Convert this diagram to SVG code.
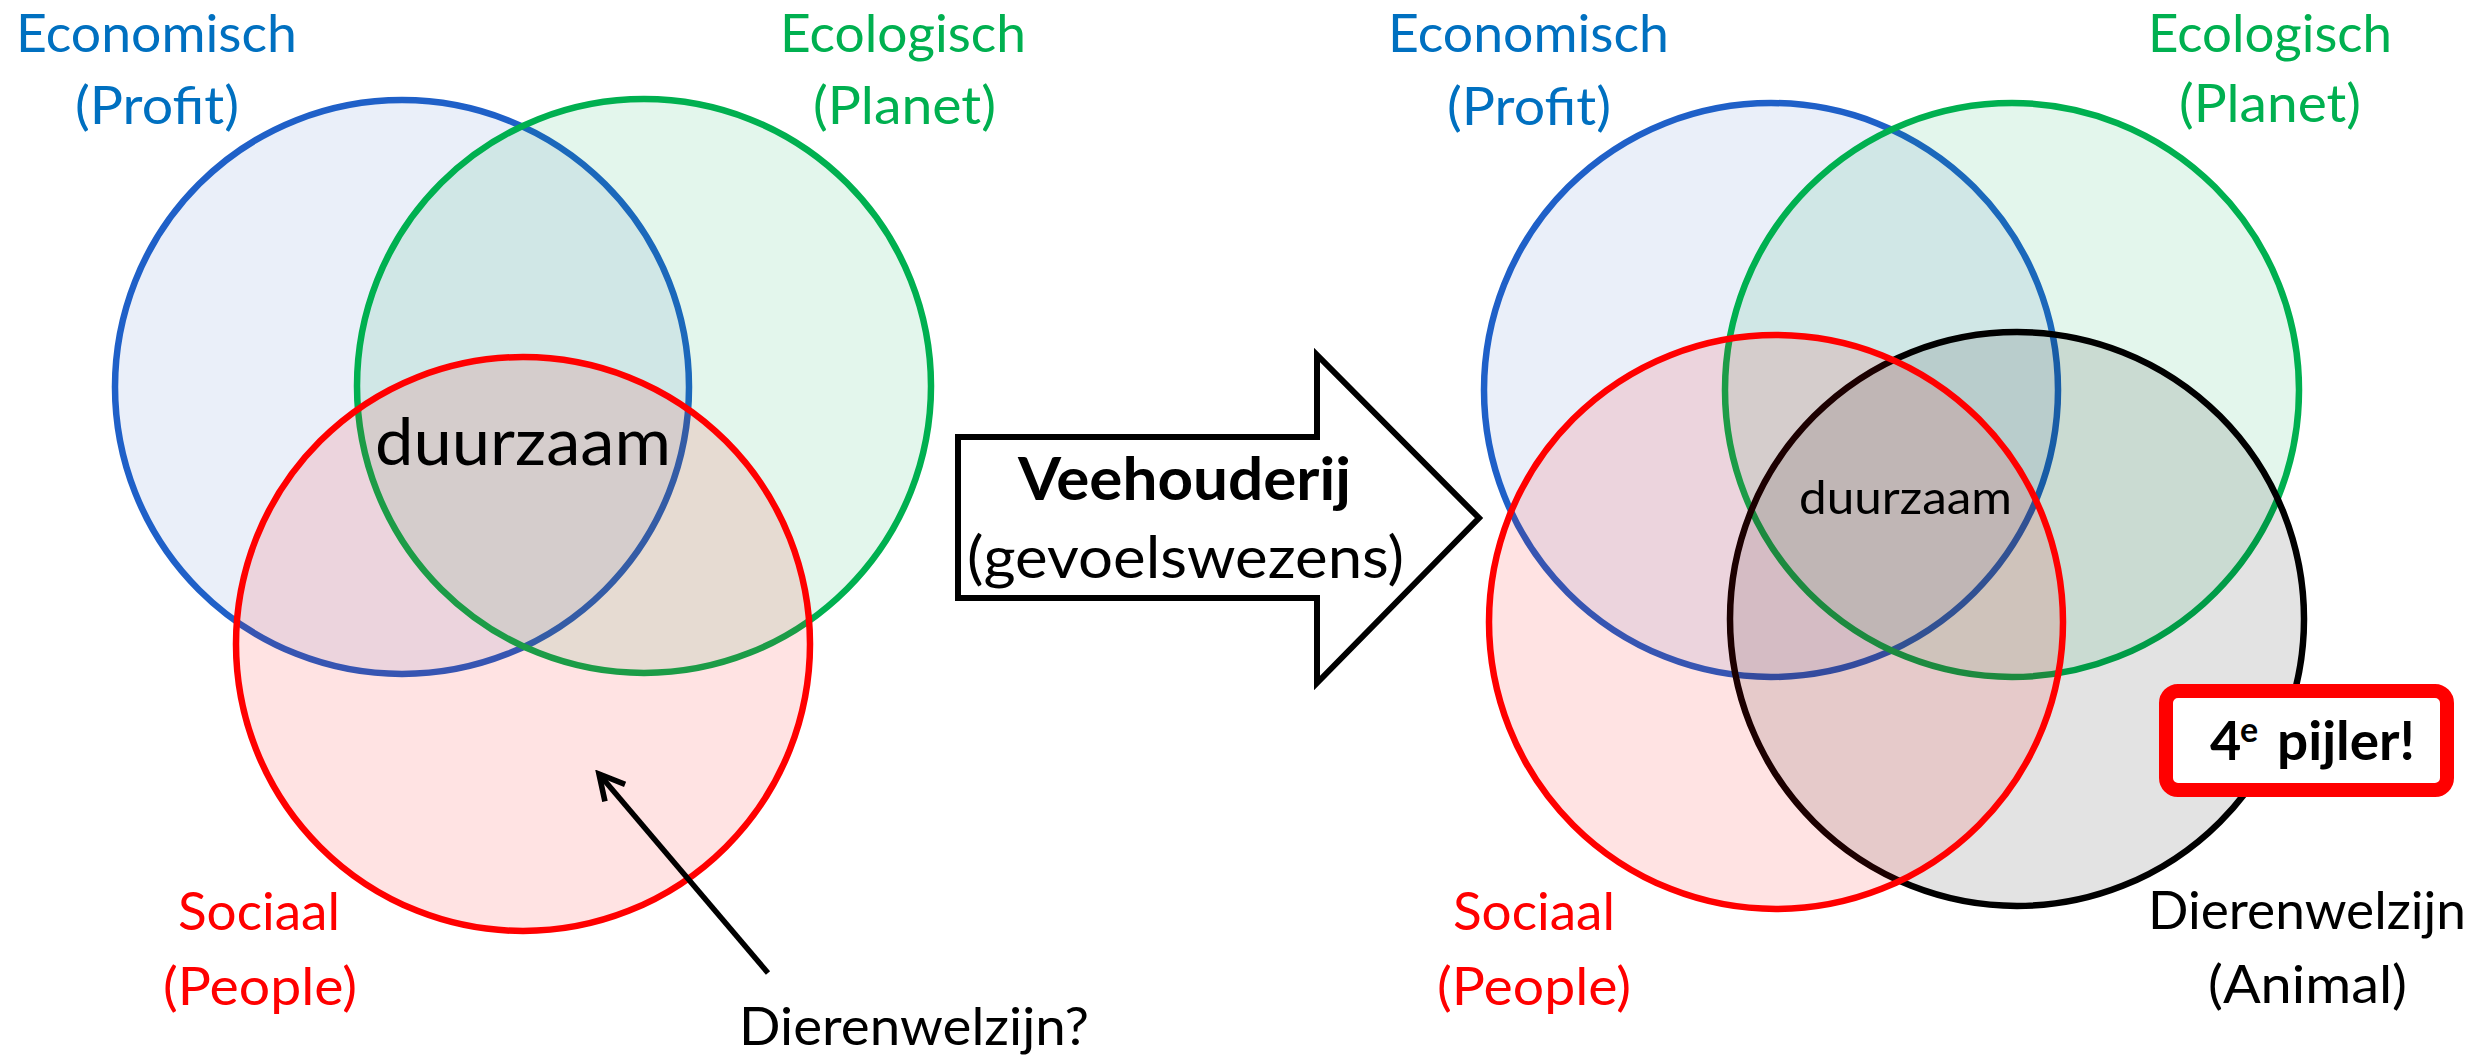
<svg xmlns="http://www.w3.org/2000/svg" width="2476" height="1057" viewBox="0 0 2476 1057">
<defs>
<style>
text{font-family:Lato,"Open Sans","Liberation Sans",sans-serif;}
.lbl{font-size:52px;}
.blue{fill:#0070C0;}
.green{fill:#00B050;}
.red{fill:#FF0000;}
.blk{fill:#000;}
.c{stroke-width:6.5;}
.cb{fill:#2E64C4;fill-opacity:0.1;stroke:#1F60C8;}
.cg{fill:#00B050;fill-opacity:0.11;stroke:#00B050;}
.cr{fill:#FF0000;fill-opacity:0.11;stroke:#FF0000;}
.ck{fill:#000;fill-opacity:0.11;stroke:#000;}
</style>
<marker id="open" viewBox="0 0 20 20" refX="17" refY="10" markerWidth="6" markerHeight="6" markerUnits="strokeWidth" orient="auto">
<path d="M2,2 L17,10 L2,18" fill="none" stroke="#000" stroke-width="3.4"/>
</marker>
</defs>
<rect width="2476" height="1057" fill="#fff"/>

<g id="left-economisch">
<circle class="c cb" cx="402" cy="387" r="287"/>
<text class="lbl blue" x="16" y="52" textLength="281" lengthAdjust="spacingAndGlyphs">Economisch</text>
<text class="lbl blue" x="75" y="124" textLength="164" lengthAdjust="spacingAndGlyphs">(Profit)</text>
</g>
<g id="left-ecologisch">
<circle class="c cg" cx="644" cy="386" r="287"/>
<text class="lbl green" x="780" y="52" textLength="246" lengthAdjust="spacingAndGlyphs">Ecologisch</text>
<text class="lbl green" x="813" y="124" textLength="183" lengthAdjust="spacingAndGlyphs">(Planet)</text>
</g>
<g id="left-sociaal">
<circle class="c cr" cx="523" cy="644" r="287"/>
<text class="lbl red" x="178" y="930" textLength="162" lengthAdjust="spacingAndGlyphs">Sociaal</text>
<text class="lbl red" x="163" y="1005" textLength="194" lengthAdjust="spacingAndGlyphs">(People)</text>
</g>
<g id="left-duurzaam">
<text class="blk" x="375" y="465" font-size="66" textLength="296" lengthAdjust="spacingAndGlyphs">duurzaam</text>
</g>
<g id="left-dierenwelzijn">
<text class="lbl blk" x="739" y="1045" textLength="350" lengthAdjust="spacingAndGlyphs">Dierenwelzijn?</text>
</g>

<g id="transition-arrow">
<path d="M958,437 L1317,437 L1317,355 L1479,518 L1317,683 L1317,598 L958,598 Z" fill="#fff" stroke="#000" stroke-width="6" stroke-linejoin="miter"/>
<text class="blk" x="1018" y="500" font-size="59" font-weight="bold" textLength="333" lengthAdjust="spacingAndGlyphs">Veehouderij</text>
<text class="blk" x="967" y="578" font-size="59" textLength="437" lengthAdjust="spacingAndGlyphs">(gevoelswezens)</text>
</g>

<g id="right-economisch">
<circle class="c cb" cx="1771" cy="390" r="287"/>
<text class="lbl blue" x="1388" y="52" textLength="281" lengthAdjust="spacingAndGlyphs">Economisch</text>
<text class="lbl blue" x="1447" y="125" textLength="164" lengthAdjust="spacingAndGlyphs">(Profit)</text>
</g>
<g id="right-ecologisch">
<circle class="c cg" cx="2012" cy="390" r="287"/>
<text class="lbl green" x="2148" y="52" textLength="244" lengthAdjust="spacingAndGlyphs">Ecologisch</text>
<text class="lbl green" x="2179" y="122" textLength="182" lengthAdjust="spacingAndGlyphs">(Planet)</text>
</g>
<g id="right-dierenwelzijn">
<circle class="c ck" cx="2017" cy="619" r="287"/>
<text class="lbl blk" x="2148" y="929" textLength="318" lengthAdjust="spacingAndGlyphs">Dierenwelzijn</text>
<text class="lbl blk" x="2208" y="1003" textLength="199" lengthAdjust="spacingAndGlyphs">(Animal)</text>
</g>
<g id="right-sociaal">
<circle class="c cr" cx="1776" cy="622" r="287"/>
<text class="lbl red" x="1453" y="930" textLength="162" lengthAdjust="spacingAndGlyphs">Sociaal</text>
<text class="lbl red" x="1437" y="1005" textLength="194" lengthAdjust="spacingAndGlyphs">(People)</text>
</g>
<g id="right-duurzaam">
<text class="blk" x="1799" y="514" font-size="47" textLength="213" lengthAdjust="spacingAndGlyphs">duurzaam</text>
</g>
<g id="vierde-pijler">
<rect x="2166" y="691" width="281" height="99" rx="12" ry="12" fill="#fff" stroke="#FF0000" stroke-width="14"/>
<text class="blk" y="760" font-size="54" font-weight="bold"><tspan x="2210" textLength="27">4</tspan><tspan x="2240" y="742" font-size="34">e</tspan><tspan x="2277" y="760" textLength="138" lengthAdjust="spacingAndGlyphs">pijler!</tspan></text>
</g>

<g id="connectors">
<line x1="768" y1="973" x2="599" y2="774" stroke="#000" stroke-width="5.5" marker-end="url(#open)"/>
</g>
</svg>
